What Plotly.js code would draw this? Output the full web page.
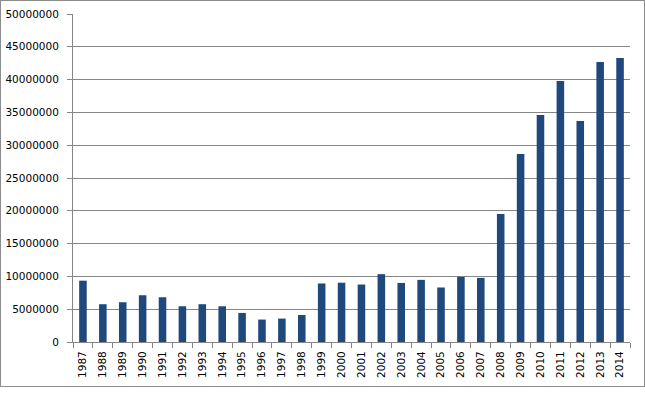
<!DOCTYPE html>
<html><head><meta charset="utf-8">
<script src="https://cdn.plot.ly/plotly-3.0.1.min.js"></script>
<style>
html,body{margin:0;padding:0;background:#fff;}
#frame{position:absolute;left:0;top:0;width:643px;height:385px;border:1px solid #8c8c8c;}
#chart{position:absolute;left:0;top:0;width:645px;height:394px;}
</style></head>
<body>
<div id="frame"></div>
<div id="chart"></div>
<script>
const years = ["1987","1988","1989","1990","1991","1992","1993","1994","1995","1996","1997","1998","1999","2000","2001","2002","2003","2004","2005","2006","2007","2008","2009","2010","2011","2012","2013","2014"];
const values = [9350000,5760000,6060000,7130000,6820000,5450000,5760000,5450000,4430000,3420000,3570000,4120000,8920000,9040000,8760000,10340000,9000000,9470000,8310000,9920000,9770000,19500000,28650000,34600000,39800000,33700000,42700000,43300000];
const yTicks = [0,5000000,10000000,15000000,20000000,25000000,30000000,35000000,40000000,45000000,50000000];

Plotly.newPlot('chart', [{
  type: 'bar', x: years, y: values,
  marker: {color: '#1f497d', line: {width: 0}},
  hoverinfo: 'x+y'
}], {
  width: 645, height: 394,
  margin: {l: 73, r: 15, t: 14, b: 52, pad: 0},
  paper_bgcolor: 'rgba(0,0,0,0)', plot_bgcolor: '#fff',
  bargap: 0.62,
  showlegend: false,
  font: {family: 'DejaVu Sans, Verdana, sans-serif', size: 10.5, color: '#000'},
  xaxis: {
    type: 'category', tickangle: -90, tickson: 'boundaries',
    ticks: 'outside', ticklen: 5, tickcolor: '#868686',
    showline: true, linecolor: '#868686', linewidth: 1,
    showgrid: false, zeroline: false, fixedrange: true,
    ticklabelstandoff: 4
  },
  yaxis: {
    range: [0, 50000000], tickvals: yTicks, ticktext: yTicks.map(v => String(v)),
    ticks: 'outside', ticklen: 5, tickcolor: '#868686',
    showline: true, linecolor: '#868686', linewidth: 1,
    showgrid: true, gridcolor: '#868686', gridwidth: 1,
    zeroline: false, fixedrange: true, ticklabelstandoff: 6
  }
}, {displayModeBar: false, staticPlot: true});
</script>
</body></html>
